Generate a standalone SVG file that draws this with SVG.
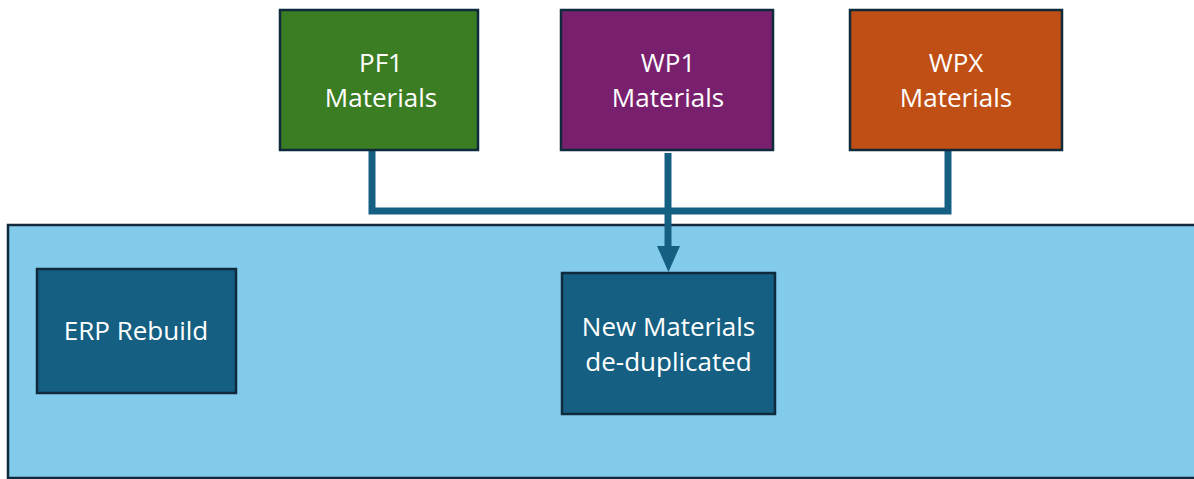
<svg xmlns="http://www.w3.org/2000/svg" width="1194" height="479" viewBox="0 0 1194 479">
<style>
.box{stroke:#0e2a3c;stroke-width:2.5}
.lbl{font-family:"Open Sans","Liberation Sans",sans-serif;font-size:26px;fill:#ffffff;text-anchor:middle}
.conn{fill:none;stroke:#156082;stroke-width:7}
</style>
<rect width="1194" height="479" fill="#ffffff"/>
<g id="container">
<rect x="8" y="225" width="1200" height="253" fill="#83cbeb" stroke="#0e2a3c" stroke-width="2.5"/>
</g>
<g id="connectors">
<path class="conn" d="M372,150 V211 H948 V150"/>
<line class="conn" x1="668" y1="153" x2="668" y2="246"/>
<path d="M657,246 L680,246 L668.5,272 Z" fill="#156082"/>
</g>
<g id="pf1">
<rect class="box" x="280" y="10" width="198" height="140" fill="#3b7d23"/>
<text class="lbl" x="381" y="72">PF1</text>
<text class="lbl" x="381" y="107">Materials</text>
</g>
<g id="wp1">
<rect class="box" x="561" y="10" width="212" height="140" fill="#78206e"/>
<text class="lbl" x="668" y="72">WP1</text>
<text class="lbl" x="668" y="107">Materials</text>
</g>
<g id="wpx">
<rect class="box" x="850" y="10" width="212" height="140" fill="#c04f15"/>
<text class="lbl" x="956" y="72">WPX</text>
<text class="lbl" x="956" y="107">Materials</text>
</g>
<g id="erp">
<rect class="box" x="37" y="269" width="199" height="124" fill="#155f82"/>
<text class="lbl" x="136" y="340">ERP Rebuild</text>
</g>
<g id="newmat">
<rect class="box" x="562" y="273" width="213" height="141" fill="#155f82"/>
<text class="lbl" x="668.5" y="336">New Materials</text>
<text class="lbl" x="668.5" y="371">de-duplicated</text>
</g>
</svg>
